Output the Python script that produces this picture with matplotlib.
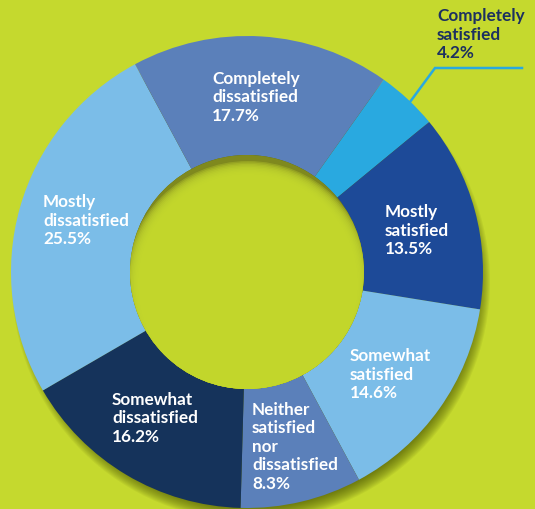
import matplotlib
matplotlib.use("Agg")
import matplotlib.pyplot as plt
from matplotlib.patches import Circle
import numpy as np

plt.rcParams['font.family'] = ['Lato', 'DejaVu Sans']

# ---- data ----
categories = ["Completely satisfied", "Mostly satisfied", "Somewhat satisfied",
              "Neither satisfied nor dissatisfied", "Somewhat dissatisfied",
              "Mostly dissatisfied", "Completely dissatisfied"]
values = [4.2, 13.5, 14.6, 8.3, 16.2, 25.5, 17.7]
label_lines = [["Completely", "satisfied", "4.2%"],
               ["Mostly", "satisfied", "13.5%"],
               ["Somewhat", "satisfied", "14.6%"],
               ["Neither", "satisfied", "nor", "dissatisfied", "8.3%"],
               ["Somewhat", "dissatisfied", "16.2%"],
               ["Mostly", "dissatisfied", "25.5%"],
               ["Completely", "dissatisfied", "17.7%"]]
colors = ["#29a9e0", "#1d4a98", "#7bbde8", "#5b80ba", "#15335b", "#7bbde8", "#5b80ba"]

# ---- layout (pixel coords, y down) ----
W, H = 535, 510
BG = "#c5d92e"
cx, cy = 247, 273
R_out, R_in = 236, 117
label_pos = [(437, 21), (385, 217), (350, 361), (252, 415), (112, 405), (43, 207), (212, 84)]
label_colors = ["#1c3060"] + ["white"] * 6
line_gap = 18.5

def Y(y):
    return H - y

fig = plt.figure(figsize=(W / 100, H / 100), dpi=100, facecolor=BG)
ax = fig.add_axes([0, 0, 1, 1])
ax.set_facecolor(BG)

# outer drop shadow (falls downward)
N = 18
for i in range(N):
    r = R_out + 3 - 20 * i / N
    ax.add_patch(Circle((cx + 4, Y(cy) - 10), r, facecolor="#3f4800",
                        edgecolor="none", alpha=0.07, zorder=1))

wedges, _ = ax.pie(values, colors=colors, startangle=54.6, counterclock=False,
                   radius=R_out, center=(cx, Y(cy)),
                   wedgeprops=dict(width=R_out - R_in, linewidth=0), frame=False)
for w in wedges:
    w.set_zorder(2)

# inner hole with inset shadow
hole = Circle((cx, Y(cy)), R_in, facecolor="#7f891e", edgecolor="none", zorder=3)
ax.add_patch(hole)
clip = Circle((cx, Y(cy)), R_in, transform=ax.transData)
N2 = 18
for i in range(N2):
    r = R_in + 6 - 26 * i / N2
    c = Circle((cx + 1, Y(cy) - 12), r, facecolor=BG, edgecolor="none",
               alpha=0.3, zorder=4)
    ax.add_patch(c)
    c.set_clip_path(clip)

# labels
for lines, (lx, ly), col in zip(label_lines, label_pos, label_colors):
    for k, t in enumerate(lines):
        ax.text(lx, Y(ly + k * line_gap), t, color=col, fontsize=12.3,
                fontweight="bold", ha="left", va="baseline", zorder=6)

# leader line
ax.plot([410, 435, 522], [Y(103), Y(69), Y(69)], color="#29a9e0", lw=1.8,
        solid_joinstyle="miter", zorder=5)

ax.set_xlim(0, W)
ax.set_ylim(0, H)
ax.set_aspect("equal")
ax.axis("off")
fig.savefig("out.png", dpi=100, facecolor=BG)
